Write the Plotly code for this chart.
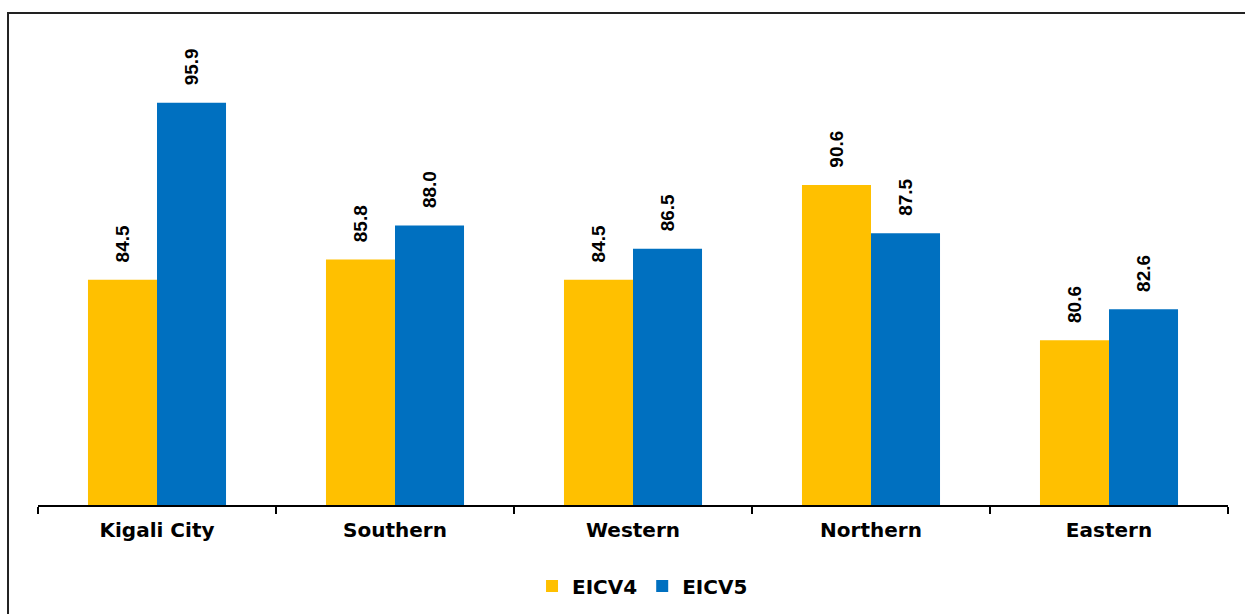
import plotly.graph_objects as go

regions = ["Kigali City", "Southern", "Western", "Northern", "Eastern"]
eicv4 = [84.5, 85.8, 84.5, 90.6, 80.6]
eicv5 = [95.9, 88.0, 86.5, 87.5, 82.6]
series = [("EICV4", eicv4, "#FFC000"), ("EICV5", eicv5, "#0070C0")]

lab_font = "Liberation Sans, Arial, sans-serif"
ax_font = "DejaVu Sans, Arial, sans-serif"

fig = go.Figure()
for name, vals, col in series:
    fig.add_trace(go.Bar(
        name=name, x=regions, y=vals, marker_color=col, marker_line_width=0,
        texttemplate="\u00a0\u00a0\u2009%{y:.1f}", textposition="outside",
        textangle=-90, cliponaxis=False, constraintext="none",
        textfont=dict(family=lab_font, size=19, color="black", weight="bold")))

fig.update_layout(
    width=1245, height=614,
    barmode="group", bargap=0.42, bargroupgap=0,
    plot_bgcolor="white", paper_bgcolor="white",
    margin=dict(l=38, r=17, t=39, b=109, autoexpand=False),
    font=dict(family=ax_font, color="black"),
    legend=dict(orientation="h", x=0.508, xanchor="center", y=-0.174, yanchor="middle",
                font=dict(size=20, family=ax_font, color="black", weight="bold"),
                itemwidth=30, traceorder="normal", tracegroupgap=0),
    shapes=[dict(type="rect", xref="paper", yref="paper", x0=-0.0252, x1=1.03,
                 y0=-0.6, y1=1.0558, line=dict(color="#222222", width=2),
                 layer="below")],
)
fig.update_xaxes(showline=True, linecolor="black", linewidth=2,
                 ticks="outside", tickson="boundaries", ticklen=7, tickwidth=2,
                 tickcolor="black", ticklabelstandoff=6,
                 tickfont=dict(size=20, family=ax_font, color="black", weight="bold"))
fig.update_yaxes(range=[70, 100], visible=False, showgrid=False)

fig.write_html("out.html", config={"displayModeBar": False},
               post_script="document.body.style.margin='0';")
